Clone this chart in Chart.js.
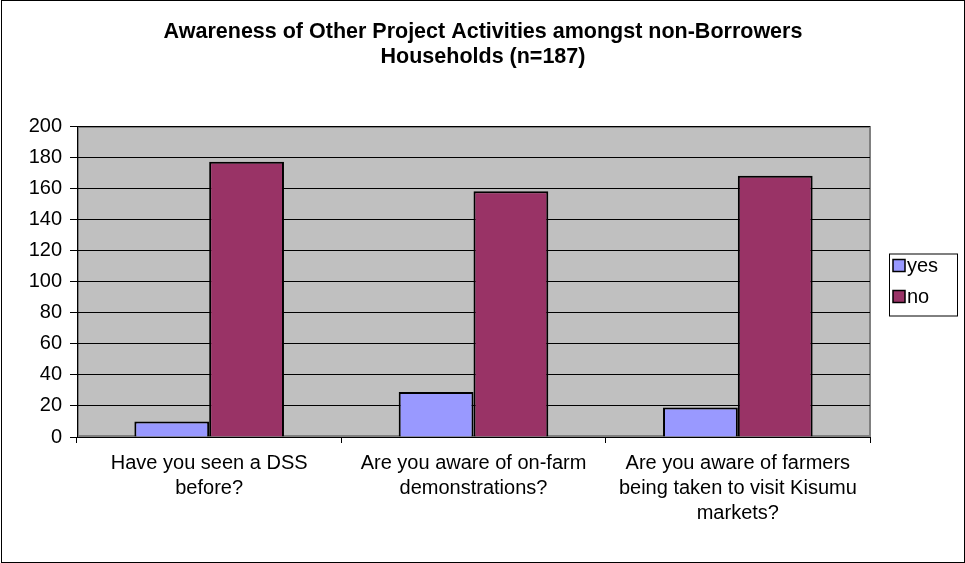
<!DOCTYPE html>
<html>
<head>
<meta charset="utf-8">
<title>Awareness of Other Project Activities</title>
<script src="https://cdn.jsdelivr.net/npm/chart.js@4/dist/chart.umd.min.js"></script>
<style>
  html, body { margin: 0; padding: 0; background: #fff; }
  #chart-wrap { width: 965px; height: 563px; }
</style>
</head>
<body>
<div id="chart-wrap"><canvas id="awareness-chart" width="965" height="563"></canvas></div>
<script>
const titleLines = ['Awareness of Other Project Activities amongst non-Borrowers', 'Households (n=187)'];
const questions = [
    ['Have you seen a DSS', 'before?'],
    ['Are you aware of on-farm', 'demonstrations?'],
    ['Are you aware of farmers', 'being taken to visit Kisumu', 'markets?']
];
const seriesNames = ['yes', 'no'];
const yesCounts = [10, 29, 19];
const noCounts = [177, 158, 168];
const yMin = 0;
const yMax = 200;
const yStep = 20;

const FONT = '"Liberation Sans", Arial, sans-serif';
const seriesColors = ['#9999FF', '#993366'];

// gray plot area, outer frame, title and the boxed legend on the right
const excelLook = {
    id: 'excelLook',
    beforeDraw(chart) {
        const { ctx, chartArea: a } = chart;
        ctx.save();
        ctx.fillStyle = '#C0C0C0';
        ctx.fillRect(a.left, a.top, a.right - a.left, a.bottom - a.top);
        ctx.strokeStyle = '#808080';
        ctx.lineWidth = 2;
        ctx.strokeRect(a.left + 1, a.top + 1, a.right - a.left - 1, a.bottom - a.top - 2);
        ctx.restore();
    },
    afterDraw(chart) {
        const { ctx, chartArea: a, width, height } = chart;
        ctx.save();
        // frame round the whole chart
        ctx.strokeStyle = '#000';
        ctx.lineWidth = 1;
        ctx.strokeRect(1.5, 0.5, width - 2, height - 1);

        // title
        ctx.fillStyle = '#000';
        ctx.font = 'bold 21.5px ' + FONT;
        ctx.textAlign = 'center';
        ctx.textBaseline = 'middle';
        titleLines.forEach((line, i) => ctx.fillText(line, 483, 32 + i * 25));

        // legend
        const boxLeft = a.right + 19;
        const boxTop = (a.top + a.bottom) / 2 - 28;
        ctx.strokeRect(boxLeft + 0.5, boxTop + 0.5, 68, 62);
        ctx.font = '20px ' + FONT;
        ctx.textAlign = 'left';
        chart.data.datasets.forEach((ds, i) => {
            const cy = boxTop + 12 + i * 31;
            ctx.fillStyle = ds.backgroundColor;
            ctx.fillRect(boxLeft + 4, cy - 6, 12, 12);
            ctx.strokeStyle = '#000';
            ctx.lineWidth = 1.5;
            ctx.strokeRect(boxLeft + 4, cy - 6, 12, 12);
            ctx.fillStyle = '#000';
            ctx.fillText(ds.label, boxLeft + 18, cy + 1);
        });
        ctx.restore();
    }
};

const ctx = document.getElementById('awareness-chart').getContext('2d');
new Chart(ctx, {
    type: 'bar',
    data: {
        labels: questions,
        datasets: [
            { label: seriesNames[0], data: yesCounts, backgroundColor: seriesColors[0] },
            { label: seriesNames[1], data: noCounts, backgroundColor: seriesColors[1] }
        ]
    },
    options: {
        responsive: false,
        animation: false,
        layout: { padding: { top: 126, right: 95, bottom: 0, left: 0 } },
        datasets: {
            bar: {
                categoryPercentage: 0.566,
                barPercentage: 1,
                borderColor: '#000',
                borderWidth: 2
            }
        },
        plugins: {
            legend: { display: false },
            title: { display: false },
            tooltip: { enabled: false }
        },
        scales: {
            x: {
                grid: {
                    offset: true,
                    drawOnChartArea: false,
                    color: '#000',
                    tickLength: 6
                },
                border: { color: '#000', width: 1 },
                ticks: {
                    color: '#000',
                    font: { family: FONT, size: 20, lineHeight: 1.25 },
                    padding: 8,
                    maxRotation: 0,
                    autoSkip: false
                },
                afterFit(scale) { scale.height = 126; }
            },
            y: {
                min: yMin,
                max: yMax,
                grid: {
                    color: '#000',
                    lineWidth: 1,
                    tickLength: 7
                },
                border: { color: '#000', width: 1 },
                ticks: {
                    stepSize: yStep,
                    color: '#000',
                    font: { family: FONT, size: 20 },
                    padding: 8
                },
                afterFit(scale) { scale.width = 77; }
            }
        }
    },
    plugins: [excelLook]
});
</script>
</body>
</html>
